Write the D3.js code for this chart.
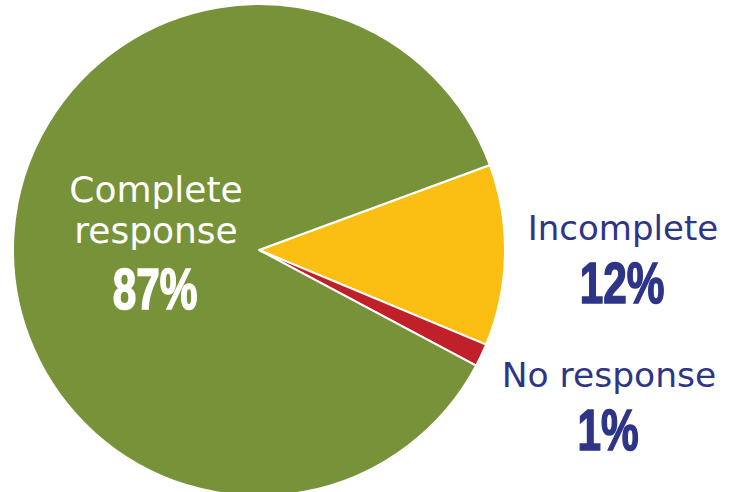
<!DOCTYPE html>
<html>
<head>
<meta charset="utf-8">
<script src="https://cdn.jsdelivr.net/npm/d3@7"></script>
<style>
  body { margin: 0; background: #fff; }
  .name { font-family: "DejaVu Sans", Verdana, sans-serif; }
  .pct { font-family: "Liberation Sans Narrow", "Liberation Sans", sans-serif; font-weight: bold; font-size: 58px; }
</style>
</head>
<body>
<div id="main"></div>
<script>
// DATA
const categories = ["Incomplete", "No response", "Complete response"]
const values = [11.9, 1.5, 86.6]
const pctLabels = ["12%", "1%", "87%"]

// COLORS
const colors = ['#fbbf13', '#c0202a', '#78923a']
const blue = '#2e3587'

let width = 734
let height = 492
let cx = 259, cy = 250, radius = 246

let svg = d3.select("#main").append("svg")
    .attr("width", width)
    .attr("height", height)

let start = 69.8 * Math.PI / 180
let pie = d3.pie()
    .sort(null)
    .startAngle(start)
    .endAngle(start + 2 * Math.PI)

let arc = d3.arc()
    .innerRadius(0)
    .outerRadius(radius)

let g = svg.append("g")
    .attr("transform", `translate(${cx},${cy})`)

g.selectAll("path.slice")
    .data(pie(values))
    .enter().append("path")
        .attr("class", "slice")
        .attr("d", arc)
        .attr("fill", (d, i) => colors[i])
        .attr("stroke", "#fff")
        .attr("stroke-width", 2)
        .attr("stroke-linejoin", "round")

// label placement, one per category
let labels = [
    {lines: ["Incomplete"], x: 623, y: 240, size: 34, px: 622, py: 303, fill: blue},
    {lines: ["No response"], x: 609, y: 387, size: 34.5, px: 608, py: 450, fill: blue},
    {lines: ["Complete", "response"], x: 156, y: 202, size: 36, px: 155, py: 309, fill: '#fff'}
]

labels.forEach((l, i) => {
    l.lines.forEach((t, j) => {
        svg.append("text")
            .attr("class", "name")
            .attr("x", l.x)
            .attr("y", l.y + j * 41)
            .attr("text-anchor", "middle")
            .attr("font-size", l.size)
            .attr("fill", l.fill)
            .text(t)
    })
    // heavy condensed percent, thickened with a stroke
    svg.append("text")
        .attr("class", "pct")
        .attr("text-anchor", "middle")
        .attr("transform", `translate(${l.px},${l.py}) scale(0.73,1)`)
        .attr("fill", l.fill)
        .attr("stroke", l.fill)
        .attr("stroke-width", 1.6)
        .text(pctLabels[i])
})
</script>
</body>
</html>
